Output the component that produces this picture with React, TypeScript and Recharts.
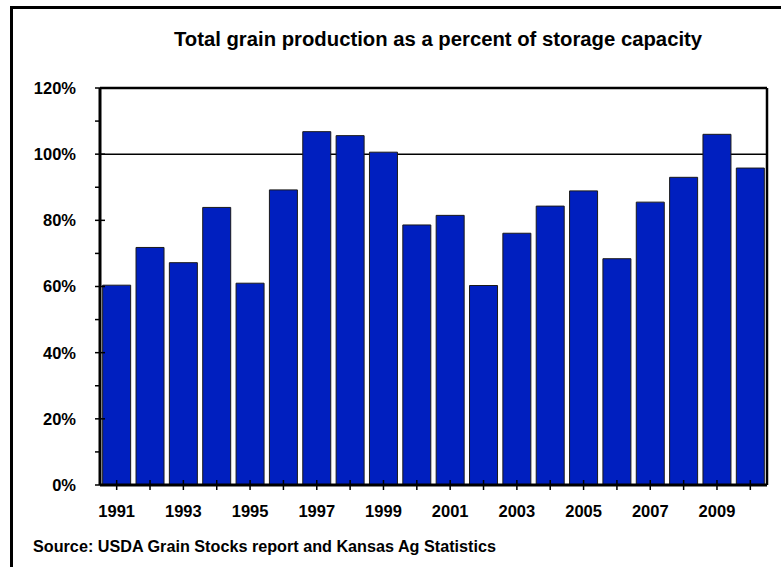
import { BarChart, Bar, XAxis, YAxis, CartesianGrid } from 'recharts';

const years = [
  '1991', '1992', '1993', '1994', '1995', '1996', '1997', '1998', '1999', '2000',
  '2001', '2002', '2003', '2004', '2005', '2006', '2007', '2008', '2009', '2010',
];

// production / storage capacity, percent
const pctOfCapacity = [
  60.4, 71.8, 67.2, 83.9, 61.0, 89.2, 106.8, 105.6, 100.6, 78.6,
  81.5, 60.3, 76.1, 84.3, 88.9, 68.4, 85.5, 93.0, 106.0, 95.8,
];

const yTicks = [0, 10, 20, 30, 40, 50, 60, 70, 80, 90, 100, 110, 120];
const labelledYears = ['1991', '1993', '1995', '1997', '1999', '2001', '2003', '2005', '2007', '2009'];

const data = years.map((year, i) => ({ year, pct: pctOfCapacity[i] }));

const FONT = '"Liberation Sans", Arial, sans-serif';

function YTick({ x, y, payload }: any) {
  const major = payload.value % 20 === 0;
  const axisX = x + 24;
  return (
    <g>
      <line x1={axisX - 5} x2={major ? axisX + 5 : axisX} y1={y} y2={y} stroke="#000" strokeWidth={1.5} />
      {major && (
        <text x={x} y={y} dy="0.36em" textAnchor="end" fontFamily={FONT} fontWeight="bold" fontSize={16.5} fill="#000">
          {payload.value}%
        </text>
      )}
    </g>
  );
}

function XTick({ x, y, payload }: any) {
  const axisY = y - 5;
  return (
    <g>
      <line x1={x} x2={x} y1={axisY - 5} y2={axisY + 5} stroke="#000" strokeWidth={1.5} />
      {labelledYears.includes(payload.value) && (
        <text x={x} y={axisY + 32} textAnchor="middle" fontFamily={FONT} fontWeight="bold" fontSize={16.5} fill="#000">
          {payload.value}
        </text>
      )}
    </g>
  );
}

export default function App() {
  return (
    <div style={{ position: 'fixed', left: 0, top: 0, width: 781, height: 567, overflow: 'hidden', background: '#fff', fontFamily: FONT }}>
      <div style={{ position: 'absolute', left: 10, top: 6, width: 800, height: 600, border: '3px solid #000' }} />
      <div style={{ position: 'absolute', left: 0, width: 876, top: 29, lineHeight: '20px', fontSize: 20.3, fontWeight: 'bold', textAlign: 'center', color: '#000', whiteSpace: 'nowrap' }}>
        Total grain production as a percent of storage capacity
      </div>
      <div style={{ position: 'absolute', left: 33, top: 538, lineHeight: '16px', fontSize: 16.2, fontWeight: 'bold', color: '#000', whiteSpace: 'nowrap' }}>
        Source: USDA Grain Stocks report and Kansas Ag Statistics
      </div>
      <div style={{ position: 'absolute', left: 0, top: 0 }}>
        <BarChart width={781} height={567} data={data} margin={{ top: 88, right: 14, bottom: 2, left: 0 }} barCategoryGap="8%">
          <CartesianGrid vertical={false} horizontalValues={[100]} stroke="#000" strokeWidth={1.5} />
          {/* top and right edges of the plot frame */}
          <CartesianGrid
            horizontalValues={[120]}
            verticalCoordinatesGenerator={({ offset }: any) => [offset.left + offset.width]}
            stroke="#000"
            strokeWidth={2.5}
          />
          <XAxis
            dataKey="year"
            interval={0}
            height={80}
            tickLine={false}
            tickSize={5}
            tickMargin={0}
            tick={<XTick />}
            axisLine={{ stroke: '#000', strokeWidth: 3 }}
          />
          <YAxis
            type="number"
            domain={[0, 120]}
            ticks={yTicks}
            interval={0}
            width={100}
            tickLine={false}
            tickSize={5}
            tickMargin={19}
            tick={<YTick />}
            axisLine={{ stroke: '#000', strokeWidth: 3 }}
          />
          <Bar dataKey="pct" fill="#001FBF" stroke="#1a1a1a" strokeWidth={1} isAnimationActive={false} />
        </BarChart>
      </div>
    </div>
  );
}
